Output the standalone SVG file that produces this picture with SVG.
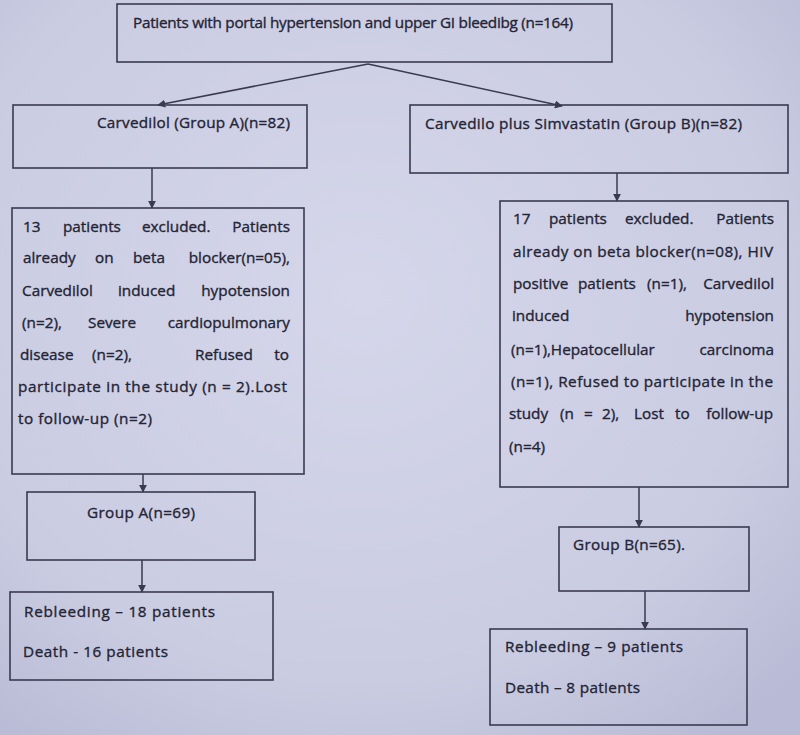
<svg xmlns="http://www.w3.org/2000/svg" width="800" height="735" viewBox="0 0 800 735">
<defs>
<radialGradient id="bg" cx="0.45" cy="0.4" r="0.75">
<stop offset="0" stop-color="#d5d6ea"/>
<stop offset="0.7" stop-color="#cacce2"/>
<stop offset="1" stop-color="#b9bbd6"/>
</radialGradient>
<marker id="ah" viewBox="0 0 10 10" refX="9" refY="5" markerWidth="8" markerHeight="8" markerUnits="userSpaceOnUse" orient="auto">
<path d="M0,0 L10,5 L0,10 z" fill="#3a3a52"/>
</marker>
<style>
.box{fill:none;stroke:#3a3a52;stroke-width:1.6}
.t{font-family:"Open Sans","Liberation Sans",sans-serif;font-size:15.3px;fill:#242434;stroke:#242434;stroke-width:0.35}
.e{text-anchor:end}
.c{fill:none;stroke:#3a3a52;stroke-width:1.5;marker-end:url(#ah)}
</style>
</defs>
<rect width="800" height="735" fill="url(#bg)"/>

<g id="connectors">
<line class="c" x1="368" y1="64" x2="158" y2="105"/>
<line class="c" x1="368" y1="64" x2="562" y2="106"/>
<line class="c" x1="152" y1="168" x2="152" y2="208"/>
<line class="c" x1="617" y1="173" x2="617" y2="201"/>
<line class="c" x1="143" y1="474" x2="143" y2="492"/>
<line class="c" x1="142" y1="560" x2="142" y2="592"/>
<line class="c" x1="639" y1="487" x2="639" y2="527"/>
<line class="c" x1="645" y1="591" x2="645" y2="629"/>
</g>

<g id="top">
<rect class="box" x="117" y="4" width="495" height="58"/>
<text class="t" x="133" y="28" textLength="440" lengthAdjust="spacing">Patients with portal hypertension and upper GI bleedibg (n=164)</text>
</g>

<g id="groupA">
<rect class="box" x="13" y="105" width="294" height="63"/>
<text class="t" x="97" y="128" textLength="193" lengthAdjust="spacing">Carvedilol (Group A)(n=82)</text>
</g>

<g id="groupB">
<rect class="box" x="410" y="105" width="378" height="68"/>
<text class="t" x="425" y="129" textLength="317" lengthAdjust="spacing">Carvedilo plus Simvastatin (Group B)(n=82)</text>
</g>

<g id="excludedA">
<rect class="box" x="12" y="208" width="292" height="266"/>
<text class="t" y="232"><tspan x="23">13</tspan><tspan x="63">patients</tspan><tspan x="142">excluded.</tspan><tspan class="e" x="290">Patients</tspan></text>
<text class="t" y="263"><tspan x="23">already</tspan><tspan x="95">on</tspan><tspan x="133">beta</tspan><tspan class="e" x="290">blocker(n=05),</tspan></text>
<text class="t" y="296"><tspan x="22">Carvedilol</tspan><tspan x="118">induced</tspan><tspan class="e" x="290">hypotension</tspan></text>
<text class="t" y="328"><tspan x="22">(n=2),</tspan><tspan x="88">Severe</tspan><tspan class="e" x="290">cardiopulmonary</tspan></text>
<text class="t" y="360"><tspan x="20">disease</tspan><tspan x="92">(n=2),</tspan><tspan x="195">Refused</tspan><tspan class="e" x="289">to</tspan></text>
<text class="t" x="18" y="392" textLength="269" lengthAdjust="spacing">participate in the study (n = 2).Lost</text>
<text class="t" x="18" y="424" textLength="134" lengthAdjust="spacing">to follow-up (n=2)</text>
</g>

<g id="excludedB">
<rect class="box" x="500" y="201" width="288" height="286"/>
<text class="t" y="224"><tspan x="513">17</tspan><tspan x="549">patients</tspan><tspan x="625">excluded.</tspan><tspan class="e" x="774">Patients</tspan></text>
<text class="t" x="513" y="257" textLength="260" lengthAdjust="spacing">already on beta blocker(n=08), HIV</text>
<text class="t" y="289"><tspan x="513">positive</tspan><tspan x="578">patients</tspan><tspan x="647">(n=1),</tspan><tspan class="e" x="774">Carvedilol</tspan></text>
<text class="t" y="321"><tspan x="512">induced</tspan><tspan class="e" x="774">hypotension</tspan></text>
<text class="t" y="355"><tspan x="511">(n=1),Hepatocellular</tspan><tspan class="e" x="774">carcinoma</tspan></text>
<text class="t" x="511" y="387" textLength="262" lengthAdjust="spacing">(n=1), Refused to participate in the</text>
<text class="t" y="419"><tspan x="509">study</tspan><tspan x="560">(n</tspan><tspan x="584">=</tspan><tspan x="602">2),</tspan><tspan x="634">Lost</tspan><tspan x="675">to</tspan><tspan class="e" x="773">follow-up</tspan></text>
<text class="t" x="509" y="452">(n=4)</text>
</g>

<g id="finalA">
<rect class="box" x="27" y="492" width="228" height="68"/>
<text class="t" x="87" y="518" textLength="108" lengthAdjust="spacing">Group A(n=69)</text>
</g>

<g id="finalB">
<rect class="box" x="559" y="527" width="190" height="64"/>
<text class="t" x="573" y="550" textLength="112" lengthAdjust="spacing">Group B(n=65).</text>
</g>

<g id="outcomeA">
<rect class="box" x="10" y="592" width="263" height="88"/>
<text class="t" x="24" y="617" textLength="191" lengthAdjust="spacing">Rebleeding –  18  patients</text>
<text class="t" x="23" y="657" textLength="145" lengthAdjust="spacing">Death -  16 patients</text>
</g>

<g id="outcomeB">
<rect class="box" x="490" y="629" width="257" height="96"/>
<text class="t" x="505" y="652" textLength="178" lengthAdjust="spacing">Rebleeding –  9 patients</text>
<text class="t" x="505" y="693" textLength="135" lengthAdjust="spacing">Death – 8 patients</text>
</g>
</svg>
